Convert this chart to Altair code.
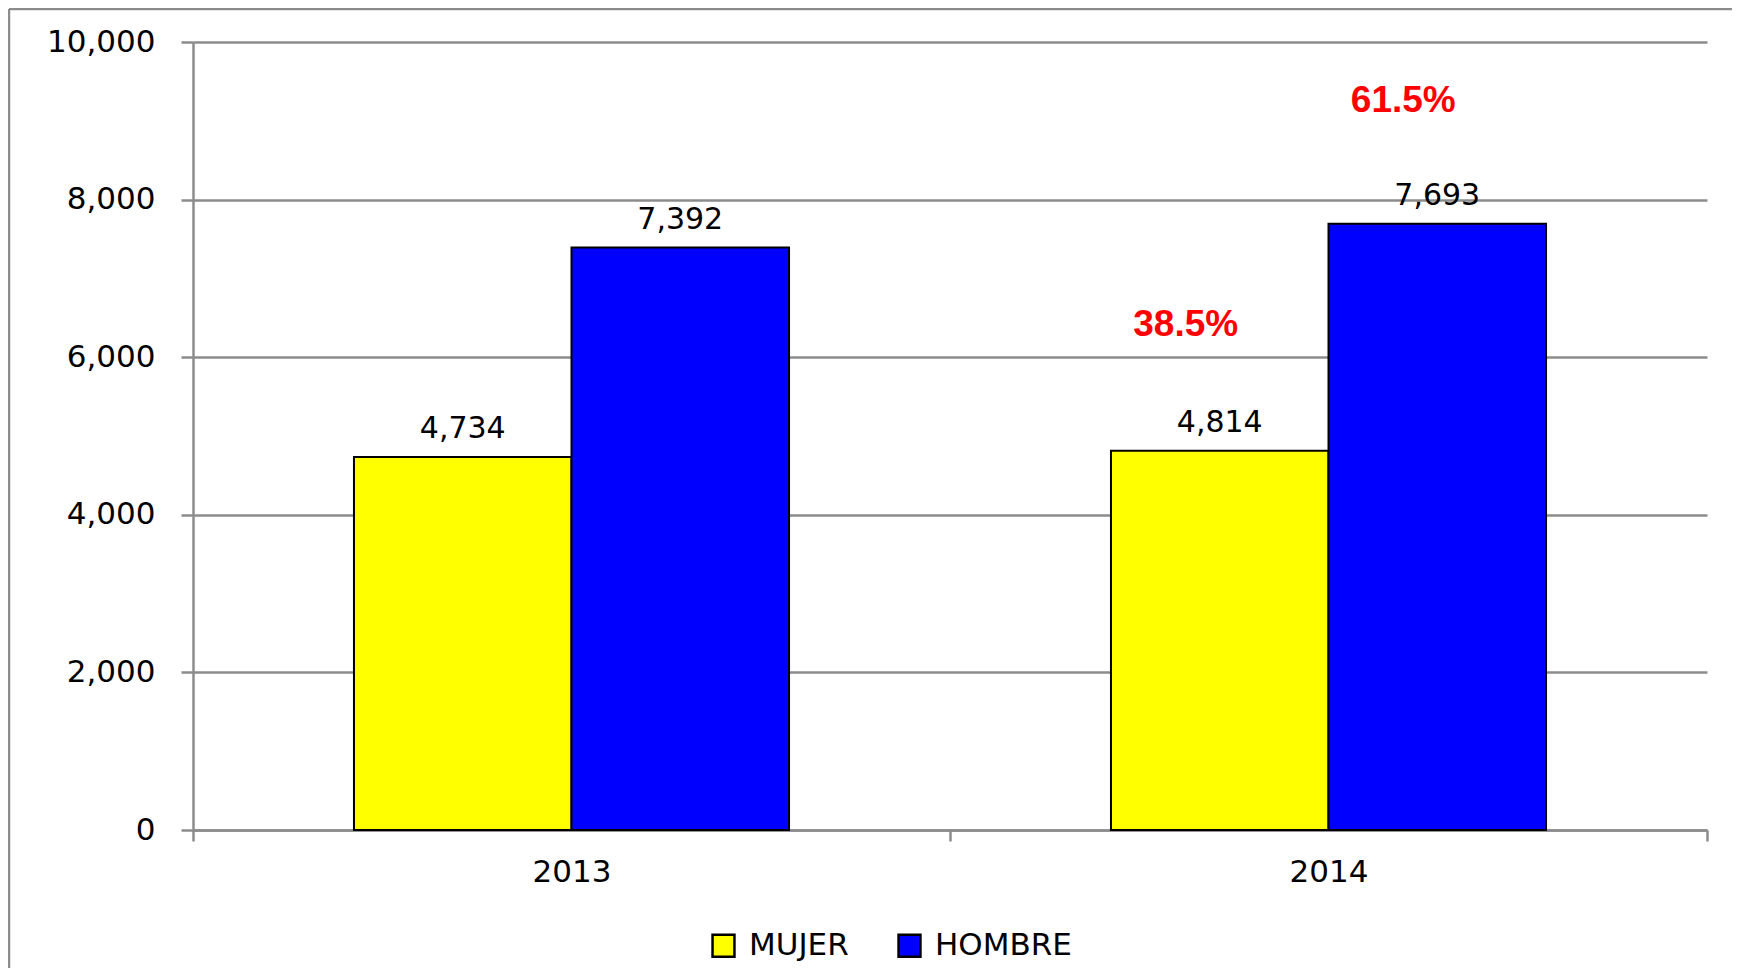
import altair as alt
import pandas as pd

years = ["2013", "2013", "2014", "2014"]
sexes = ["MUJER", "HOMBRE", "MUJER", "HOMBRE"]
values = [4734, 7392, 4814, 7693]

pct_years = ["2014", "2014"]
pct_sexes = ["MUJER", "HOMBRE"]
pct_labels = ["38.5%", "61.5%"]
pct_pos = [6410, 9250]

sex_order = ["MUJER", "HOMBRE"]
sex_colors = ["#FFFF00", "#0000FF"]

df = pd.DataFrame({"year": years, "sex": sexes, "value": values})
df_pct = pd.DataFrame({"year": pct_years, "sex": pct_sexes, "label": pct_labels, "pos": pct_pos})

FONT = "DejaVu Sans"
GRAY = "#8c8c8c"

x_enc = alt.X("year:N", title=None,
              scale=alt.Scale(paddingInner=0, paddingOuter=0),
              axis=alt.Axis(labelAngle=0, labelFont=FONT, labelFontSize=31, labelColor="black",
                            labelPadding=16, domainColor=GRAY, domainWidth=2.5,
                            tickColor=GRAY, tickWidth=2.5, tickSize=11, tickBand="extent",
                            grid=False))
xo_enc = alt.XOffset("sex:N", sort=sex_order,
                     scale=alt.Scale(paddingOuter=0.74, paddingInner=0))

bars = alt.Chart(df).mark_bar(stroke="black", strokeWidth=2).encode(
    x=x_enc,
    xOffset=xo_enc,
    y=alt.Y("value:Q", title=None,
            scale=alt.Scale(domain=[0, 10000]),
            axis=alt.Axis(values=[0, 2000, 4000, 6000, 8000, 10000], format=",d",
                          labelFont=FONT, labelFontSize=31, labelColor="black",
                          labelPadding=26, domainColor=GRAY, domainWidth=2.5,
                          tickColor=GRAY, tickWidth=2.5, tickSize=12,
                          grid=True, gridColor=GRAY, gridWidth=2.5)),
    color=alt.Color("sex:N", sort=sex_order,
                    scale=alt.Scale(domain=sex_order, range=sex_colors),
                    legend=alt.Legend(title=None, orient="none", direction="horizontal",
                                      legendX=515, legendY=888,
                                      symbolType="square", symbolSize=480,
                                      symbolStrokeColor="black", symbolStrokeWidth=2.5,
                                      labelFont=FONT, labelFontSize=31, labelColor="black",
                                      labelOffset=10, columnPadding=44)),
)

labels = alt.Chart(df).mark_text(font=FONT, fontSize=30, color="black",
                                 baseline="alphabetic", dy=-19).encode(
    x="year:N",
    xOffset=alt.XOffset("sex:N", sort=sex_order),
    y="value:Q",
    text=alt.Text("value:Q", format=",d"),
)

pcts = alt.Chart(df_pct).mark_text(font="Liberation Sans", fontWeight="bold", fontSize=37,
                                   color="#FF0000", baseline="middle", dx=-34).encode(
    x="year:N",
    xOffset=alt.XOffset("sex:N", sort=sex_order),
    y="pos:Q",
    text="label:N",
)

frame_df = pd.DataFrame({"a": [0]})
frame_left = alt.Chart(frame_df).mark_rule(color=GRAY, strokeWidth=2.5).encode(
    x=alt.value(-184), y=alt.value(-33), y2=alt.value(1000))
frame_top = alt.Chart(frame_df).mark_rule(color=GRAY, strokeWidth=2.5).encode(
    x=alt.value(-184), x2=alt.value(1600), y=alt.value(-33))

chart = alt.layer(bars, labels, pcts, frame_left, frame_top).properties(
    width=1514, height=788,
    autosize=alt.AutoSizeParams(type="none"),
    padding={"left": 185, "top": 34, "right": 25, "bottom": 138},
).configure_view(stroke=None)

chart.save("out.html", embed_options={"renderer": "svg", "actions": False})
